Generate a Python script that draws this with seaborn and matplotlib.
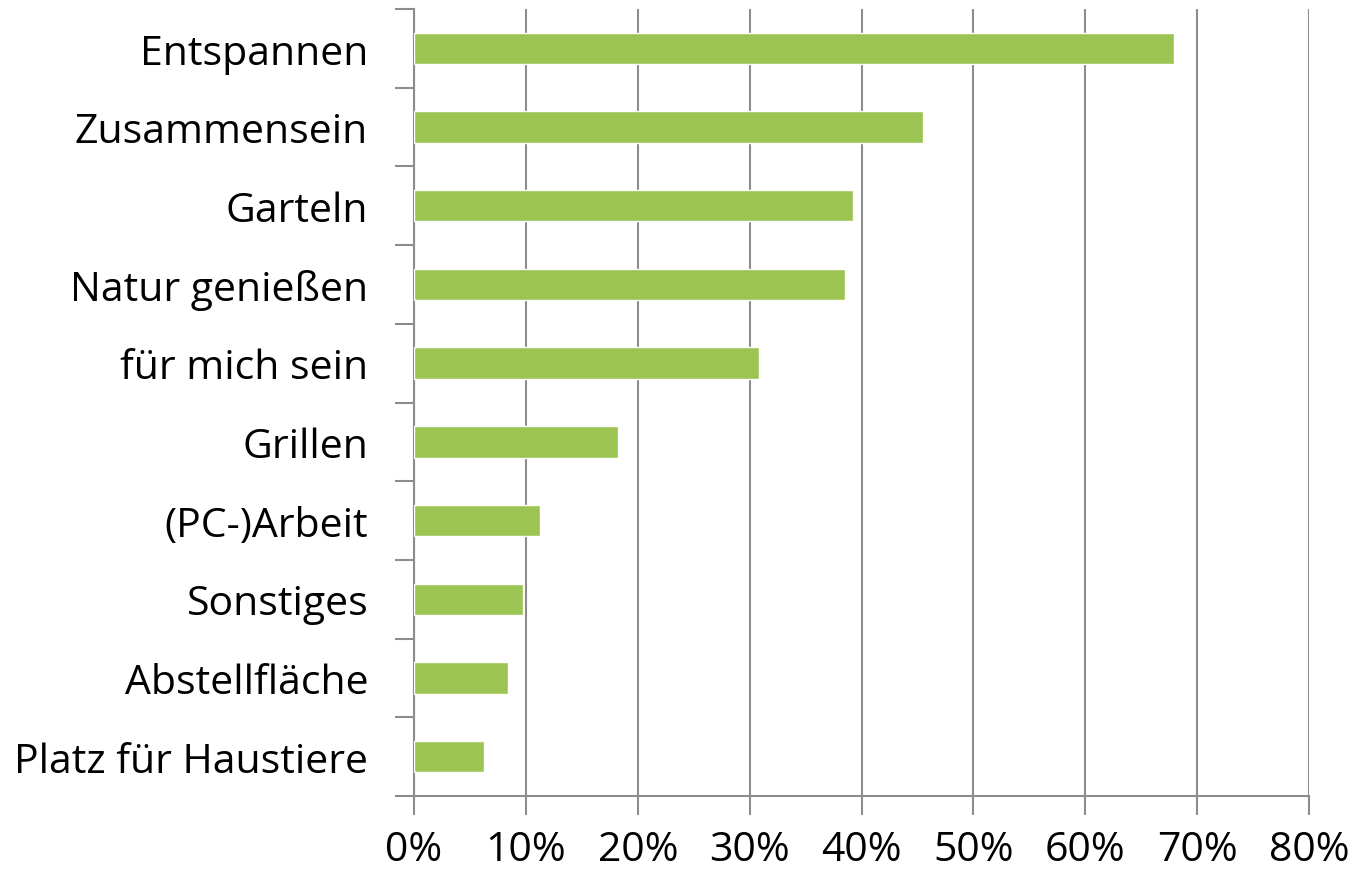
import numpy as np
import pandas as pd
import seaborn as sns
import matplotlib.pyplot as plt
from matplotlib.ticker import FixedLocator, PercentFormatter

# Daten
kategorien = ['Entspannen', 'Zusammensein', 'Garteln', 'Natur genießen', 'für mich sein',
              'Grillen', '(PC-)Arbeit', 'Sonstiges', 'Abstellfläche', 'Platz für Haustiere']
anteile = [67.9, 45.5, 39.2, 38.5, 30.8, 18.2, 11.3, 9.7, 8.4, 6.3]
x_ticks = [0, 10, 20, 30, 40, 50, 60, 70, 80]

df = pd.DataFrame({'Kategorie': kategorien, 'Anteil': anteile})

sns.set_style('white')
plt.rcParams['font.family'] = ['Open Sans', 'DejaVu Sans']

fig = plt.figure(figsize=(13.52, 8.70), dpi=100)
ax = fig.add_axes([414 / 1352, 1 - 797 / 870, (1309 - 414) / 1352, (797 - 10) / 870])

sns.barplot(data=df, y='Kategorie', x='Anteil', orient='h', color='#9CC452',
            saturation=1, width=0.4, ax=ax, zorder=3)

grau = '#8c8c8c'
ax.set_xlim(0, 80)
ax.set_ylim(len(kategorien) - 0.5, -0.5)
ax.set_xticks(x_ticks)
ax.xaxis.set_major_formatter(PercentFormatter(decimals=0))
ax.grid(axis='x', color=grau, linewidth=1.5, zorder=0)
ax.set_axisbelow(True)

# Trennstriche zwischen den Kategorien
ax.yaxis.set_minor_locator(FixedLocator(np.arange(-0.5, len(kategorien), 1.0)))
ax.tick_params(axis='y', which='major', length=0, pad=33, labelsize=29.5, labelcolor='black')
ax.tick_params(axis='y', which='minor', length=14, width=1.5, color=grau, left=True)
ax.tick_params(axis='x', length=14, width=1.5, color=grau, bottom=True, pad=10,
               labelsize=29.5, labelcolor='black')

for s in ['top', 'right']:
    ax.spines[s].set_visible(False)
for s in ['left', 'bottom']:
    ax.spines[s].set_color(grau)
    ax.spines[s].set_linewidth(1.5)

ax.set_xlabel('')
ax.set_ylabel('')

plt.savefig('out.png', dpi=100)
